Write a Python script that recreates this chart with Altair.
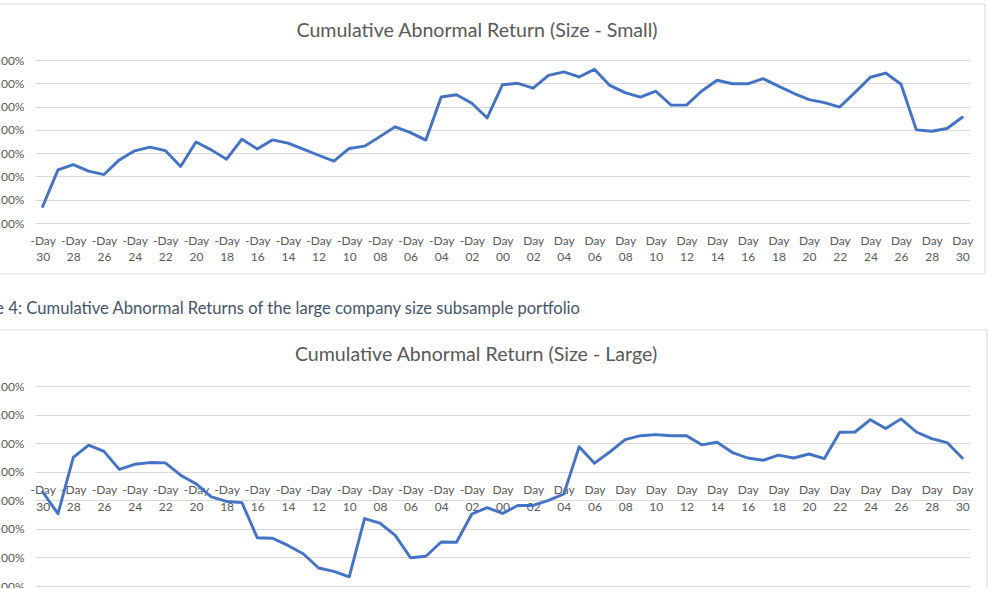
import altair as alt
import pandas as pd

# Event window labels: -Day 30 ... Day 30
days = [f"-Day {d:02d}" for d in range(30, 0, -1)] + [f"Day {d:02d}" for d in range(0, 31)]
shown_days = days[::2]

# Cumulative abnormal return, in percent
small_car = [0.71, 2.28, 2.51, 2.23, 2.08, 2.71, 3.10, 3.26, 3.11, 2.43,
             3.48, 3.14, 2.74, 3.60, 3.18, 3.57, 3.43, 3.17, 2.91, 2.66,
             3.20, 3.30, 3.71, 4.13, 3.88, 3.56, 5.41, 5.51, 5.14, 4.51,
             5.94, 6.00, 5.79, 6.34, 6.49, 6.27, 6.60, 5.91, 5.60, 5.41,
             5.66, 5.06, 5.06, 5.67, 6.13, 5.98, 5.98, 6.20, 5.88, 5.57,
             5.30, 5.17, 4.98, 5.61, 6.26, 6.44, 5.96, 4.00, 3.94, 4.06,
             4.54]
large_car = [0.29, -0.47, 1.50, 1.93, 1.71, 1.08, 1.26, 1.32, 1.31, 0.88,
             0.58, 0.12, -0.04, -0.08, -1.31, -1.33, -1.58, -1.87, -2.37, -2.49,
             -2.68, -0.64, -0.80, -1.23, -2.01, -1.96, -1.46, -1.47, -0.48, -0.26,
             -0.46, -0.18, -0.18, 0.00, 0.22, 1.87, 1.30, 1.69, 2.12, 2.26,
             2.30, 2.26, 2.26, 1.94, 2.03, 1.67, 1.48, 1.40, 1.58, 1.48,
             1.62, 1.46, 2.38, 2.39, 2.82, 2.51, 2.85, 2.39, 2.16, 2.02,
             1.48]

small_ticks = [0.00, 0.01, 0.02, 0.03, 0.04, 0.05, 0.06, 0.07]
large_ticks = [-0.03, -0.02, -0.01, 0.00, 0.01, 0.02, 0.03, 0.04]

title_small = "Cumulative Abnormal Return (Size - Small)"
title_large = "Cumulative Abnormal Return (Size - Large)"
caption_large = "Figure 4: Cumulative Abnormal Returns of the large company size subsample portfolio"

W = 935
H_SMALL = 163
H_LARGE = 200
FRAME_LEFT = -200
FONT = "Lato"
GREY = "#595959"
GRID = "#d9d9d9"


def frame(top, bottom, right):
    return alt.Chart(pd.DataFrame({"k": [0]})).mark_rect(
        filled=False, stroke=GRID, strokeWidth=1
    ).encode(
        x=alt.value(FRAME_LEFT), x2=alt.value(right),
        y=alt.value(top), y2=alt.value(bottom),
    )


def heading(text, x, y, size=19.6, color=GREY, align="center"):
    return alt.Chart(pd.DataFrame({"t": [text]})).mark_text(
        font=FONT, fontSize=size, color=color, align=align, baseline="alphabetic"
    ).encode(x=alt.value(x), y=alt.value(y), text="t:N")


def car_line(values, ticks, h, x_offset, x_pad, line_h):
    df = pd.DataFrame({"day": days, "car": [v / 100 for v in values]})
    return alt.Chart(df).mark_line(
        color="#4472C4", strokeWidth=2.9, strokeJoin="round", strokeCap="round"
    ).encode(
        x=alt.X(
            "day:O", sort=days,
            scale=alt.Scale(type="point", padding=0.5),
            axis=alt.Axis(
                values=shown_days, labelExpr="split(datum.label, ' ')",
                title=None, grid=False, ticks=False, domain=False,
                labelAngle=0, labelOverlap=False, labelLineHeight=line_h,
                labelPadding=x_pad, offset=x_offset,
            ),
        ),
        y=alt.Y(
            "car:Q",
            scale=alt.Scale(domain=[ticks[0], ticks[-1]], nice=False, zero=False),
            axis=alt.Axis(
                values=ticks, format=".2%", title=None, grid=True,
                gridColor=GRID, gridWidth=1, ticks=False, domain=False,
                labelPadding=11,
            ),
        ),
    ).properties(width=W, height=h)


top = alt.layer(
    frame(-56, 214, 950),
    car_line(small_car, small_ticks, H_SMALL, 0, 12, 16),
    heading(title_small, 442, -23),
)

zero_from_bottom = H_LARGE * (0 - large_ticks[0]) / (large_ticks[-1] - large_ticks[0])
bottom = alt.layer(
    frame(-56, 215, 952),
    car_line(large_car, large_ticks, H_LARGE, -(zero_from_bottom + 16), 0, 17),
    heading(title_large, 441, -25),
    heading(caption_large, 545, -72, size=16.6, color="#44546A", align="right"),
)

chart = alt.vconcat(top, bottom, spacing=26).properties(
    padding={"left": -166, "top": 3, "right": 1, "bottom": -14}
).configure_view(stroke=None).configure_axis(
    labelFont=FONT, labelFontSize=12, labelColor=GREY
)

chart.save("out.html", embed_options={"renderer": "svg", "actions": False})
